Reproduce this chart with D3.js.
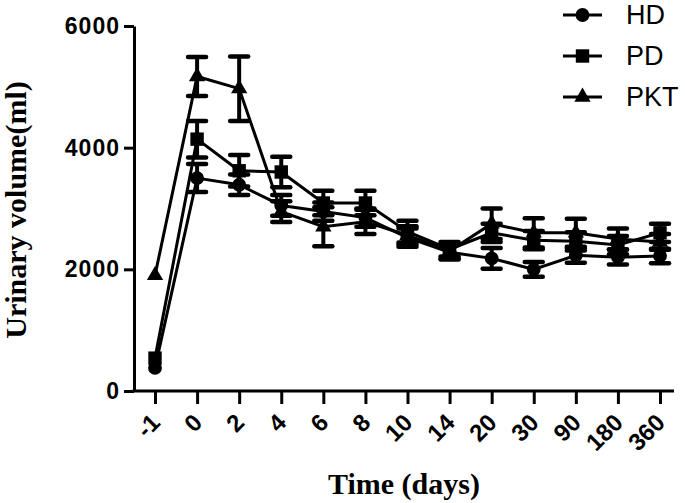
<!DOCTYPE html>
<html>
<head>
<meta charset="utf-8">
<script src="https://cdn.jsdelivr.net/npm/d3@7"></script>
<style>
  html, body { margin: 0; padding: 0; background: #fff; }
  svg { display: block; }
</style>
</head>
<body>
<svg id="chart" width="685" height="503"></svg>
<script>
// ---- data ----
const days = ["-1", "0", "2", "4", "6", "8", "10", "14", "20", "30", "90", "180", "360"];
const hdMean  = [380, 3500, 3390, 3050, 2950, 2850, 2520, 2280, 2180, 2000, 2230, 2200, 2220];
const hdErr   = [0, 230, 170, 170, 150, 150, 150, 120, 170, 120, 120, 120, 120];
const pdMean  = [540, 4140, 3620, 3600, 3090, 3090, 2620, 2330, 2600, 2480, 2460, 2400, 2600];
const pdErr   = [0, 300, 260, 250, 200, 200, 180, 120, 150, 150, 150, 150, 150];
const pktMean = [1900, 5170, 4970, 2950, 2700, 2780, 2560, 2300, 2750, 2600, 2600, 2500, 2450];
const pktErr  = [0, 320, 530, 170, 320, 200, 150, 120, 250, 240, 230, 170, 130];
const yTicks = [0, 2000, 4000, 6000];
const seriesNames = ["HD", "PD", "PKT"];
const xTitle = "Time (days)";
const yTitle = "Urinary volume(ml)";

const series = [
  { name: seriesNames[0], mean: hdMean,  err: hdErr,  symbol: d3.symbolCircle,   size: 150 },
  { name: seriesNames[1], mean: pdMean,  err: pdErr,  symbol: d3.symbolSquare,   size: 180 },
  { name: seriesNames[2], mean: pktMean, err: pktErr, symbol: d3.symbolTriangle, size: 115 }
];

const svg = d3.select("#chart");
const axisFont = "'Liberation Sans', Arial, sans-serif";
const titleFont = "'Liberation Serif', 'Times New Roman', serif";

const x = d3.scalePoint().domain(days).range([155, 660]);
const y = d3.scaleLinear().domain([0, 6000]).range([391, 26]);

// ---- axes ----
const yAxis = svg.append("g").attr("transform", "translate(134,0)")
  .call(d3.axisLeft(y).tickValues(yTicks).tickFormat(d3.format("d"))
    .tickSize(10).tickPadding(4).tickSizeOuter(0));
yAxis.select(".domain").attr("stroke", "#000").attr("stroke-width", 3);
yAxis.selectAll(".tick line").attr("stroke", "#000").attr("stroke-width", 3);
yAxis.selectAll(".tick text")
  .attr("font-family", axisFont).attr("font-weight", "bold")
  .attr("font-size", 23).attr("letter-spacing", 1).attr("fill", "#000");

const xAxis = svg.append("g").attr("transform", "translate(0,391)")
  .call(d3.axisBottom(x).tickSize(13).tickSizeOuter(0));
xAxis.select(".domain").remove();
xAxis.append("line").attr("x1", 132.5).attr("x2", 674).attr("y1", 0).attr("y2", 0)
  .attr("stroke", "#000").attr("stroke-width", 3);
xAxis.selectAll(".tick line").attr("stroke", "#000").attr("stroke-width", 3);
xAxis.selectAll(".tick text")
  .attr("font-family", axisFont).attr("font-weight", "bold")
  .attr("font-size", 24).attr("fill", "#000")
  .attr("text-anchor", "end")
  .attr("dy", null).attr("y", null)
  .attr("transform", "translate(6,33) rotate(-45)");

// axis titles
svg.append("text")
  .attr("x", 404).attr("y", 494)
  .attr("text-anchor", "middle")
  .attr("font-family", titleFont).attr("font-weight", "bold").attr("font-size", 30)
  .text(xTitle);
svg.append("text")
  .attr("transform", "translate(26,210) rotate(-90)")
  .attr("text-anchor", "middle")
  .attr("font-family", titleFont).attr("font-weight", "bold").attr("font-size", 30)
  .text(yTitle);

// ---- series ----
const line = d3.line().x((d, i) => x(days[i])).y(d => y(d));
const capW = 9;

series.forEach(s => {
  const g = svg.append("g");
  const idx = d3.range(days.length).filter(i => s.err[i] > 0);
  // error bars
  g.selectAll(null).data(idx).join("line")
    .attr("x1", i => x(days[i])).attr("x2", i => x(days[i]))
    .attr("y1", i => y(s.mean[i] + s.err[i])).attr("y2", i => y(s.mean[i] - s.err[i]))
    .attr("stroke", "#000").attr("stroke-width", 4);
  [1, -1].forEach(sign => {
    g.selectAll(null).data(idx).join("line")
      .attr("x1", i => x(days[i]) - capW).attr("x2", i => x(days[i]) + capW)
      .attr("y1", i => y(s.mean[i] + sign * s.err[i])).attr("y2", i => y(s.mean[i] + sign * s.err[i]))
      .attr("stroke", "#000").attr("stroke-width", 4.5).attr("stroke-linecap", "round");
  });
  // line
  g.append("path").datum(s.mean).attr("d", line)
    .attr("fill", "none").attr("stroke", "#000").attr("stroke-width", 3);
  // markers
  g.selectAll(null).data(d3.range(days.length)).join("path")
    .attr("transform", i => `translate(${x(days[i])},${y(s.mean[i])})`)
    .attr("d", d3.symbol().type(s.symbol).size(s.size)())
    .attr("fill", "#000");
});

// ---- legend ----
const legY = [15, 56, 97];
series.forEach((s, k) => {
  const lg = svg.append("g").attr("transform", `translate(0,${legY[k]})`);
  lg.append("line").attr("x1", 563).attr("x2", 602).attr("y1", 0).attr("y2", 0)
    .attr("stroke", "#000").attr("stroke-width", 3);
  lg.append("path").attr("transform", "translate(582.5,0)")
    .attr("d", d3.symbol().type(s.symbol).size(s.size)()).attr("fill", "#000");
  lg.append("text").attr("x", 626).attr("y", 0).attr("dy", "0.35em")
    .attr("font-family", axisFont).attr("font-size", 27).attr("fill", "#000")
    .text(s.name);
});
</script>
</body>
</html>
